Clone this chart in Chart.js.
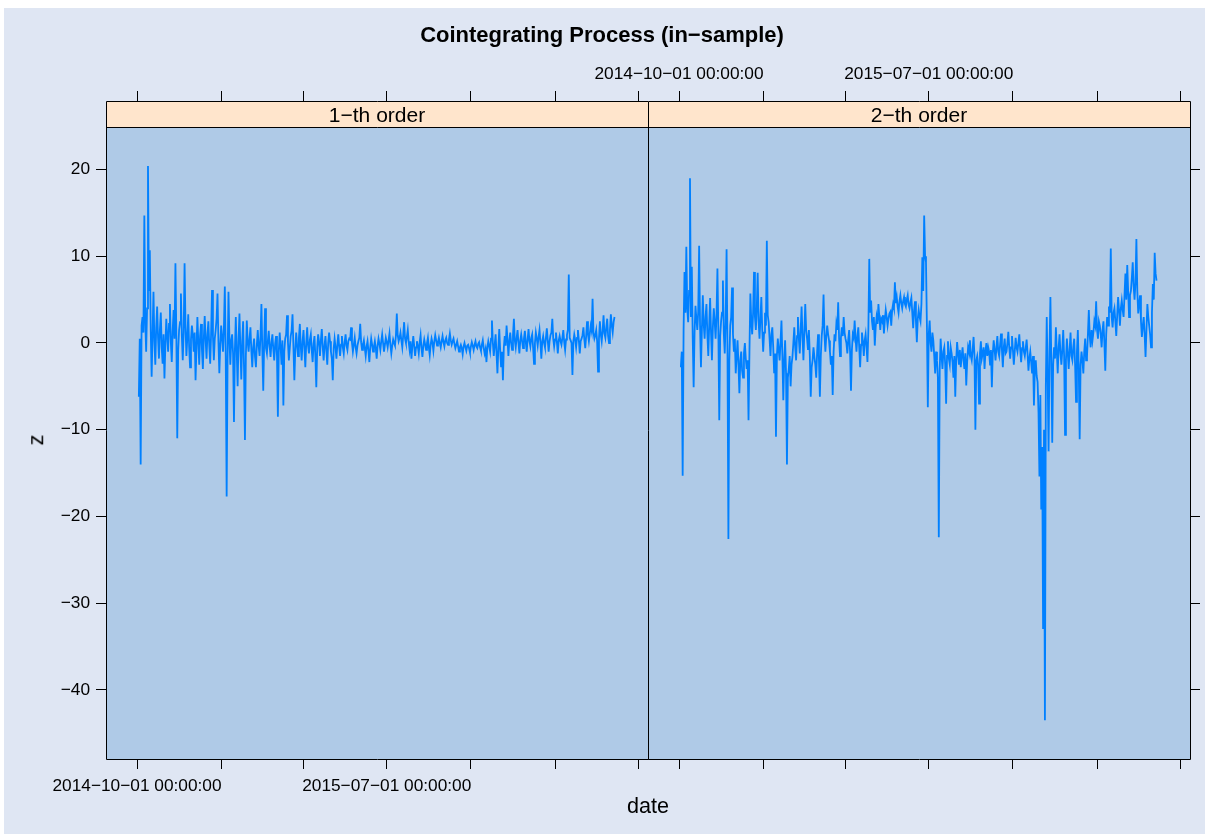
<!DOCTYPE html>
<html>
<head>
<meta charset="utf-8">
<script src="https://cdn.jsdelivr.net/npm/chart.js@4.4.1/dist/chart.umd.min.js"></script>
<style>
  body { margin: 0; background: #fff; }
  #page { position: absolute; left: 4px; top: 8px; width: 1201px; height: 826px; background: #dfe6f3; }
  canvas { position: absolute; left: 0; top: 0; }
  .txt { position: absolute; font-family: "Liberation Sans", Arial, sans-serif; color: #000;
         white-space: nowrap; line-height: 1; transform: translate(-50%, -50%); }
</style>
</head>
<body>
<div id="page"></div>
<canvas id="p1" width="1205" height="834"></canvas>
<canvas id="p2" width="1205" height="834"></canvas>
<div class="txt" style="left:602px;top:35px;font-size:22px;font-weight:bold">Cointegrating Process (in−sample)</div>
<div class="txt" id="s1" style="left:377px;top:114px;font-size:21px"></div>
<div class="txt" id="s2" style="left:919px;top:114px;font-size:21px"></div>
<div class="txt" style="left:648px;top:806px;font-size:21.6px">date</div>
<div class="txt" style="left:36px;top:440px;font-size:21.6px;transform:translate(-50%,-50%) rotate(-90deg)">z</div>
<script>
// panels
const panelNames = ['1−th order', '2−th order'];

// daily values starting at this date
const seriesStart = '2014-10-03';
const stepDays = 1;

const order1 = [
  -6.2, 0.5, -14.0, 2.0, 3.0, 1.2, 14.7, 2.5, -1.0, 4.0, 20.4, 6.0, 10.7, 1.5, -3.9, 1.0, 5.9, 0.2, -2.5, 1.8,
  4.2, 0.6, -1.8, 1.5, 3.5, -0.5, -2.4, 1.0, -4.1, -0.3, 2.8, 0.8, -1.0, 2.2, 4.5, 0.0, -2.2, 1.4, 3.8, 0.5,
  9.2, 1.0, -11.0, -0.8, 1.5, 2.4, 5.7, 0.8, -2.0, 1.2, 9.2, 2.0, -1.5, 0.6, 3.3, -0.5, -2.8, 0.4, 2.0, 0.9,
  -1.0, 1.2, -4.3, -0.6, 3.0, 0.2, -2.5, 0.9, 2.2, -0.8, -3.0, 0.5, 3.1, 0.4, -1.8, 1.0, 2.5, -0.3, -2.4, 1.1,
  6.1, 0.8, -2.0, 0.5, 1.5, 2.8, 5.7, 0.2, -3.5, -0.2, 2.0, 0.6, -1.0, 1.8, 6.5, -1.5, -17.7, -2.0, 5.9, 0.6,
  -2.5, 0.3, 1.0, -1.2, -9.1, -0.8, 3.0, -1.0, -5.0, 0.5, 3.4, -0.6, -4.2, 0.2, 2.5, -3.0, -11.2, -1.5, 2.6, 0.1,
  -1.0, 0.5, 1.8, -0.9, -2.8, -0.5, 0.5, -1.6, -2.8, -0.2, 1.5, -0.4, -1.5, 0.8, 4.5, -0.8, -5.5, 0.0, 4.0, -0.6,
  -1.2, 0.2, 1.4, -0.4, -1.6, 0.1, 1.0, -0.7, -2.0, -0.1, 0.8, -1.5, -8.5, -0.9, 1.2, -0.5, -2.5, 0.3, -7.2, -1.0,
  0.5, 1.0, 3.2, 0.1, -2.0, -0.6, 0.8, 1.4, 3.3, -0.5, -4.3, -0.9, 1.2, -0.2, -1.5, 0.6, 2.2, -0.4, -2.0, 0.2,
  1.5, -0.6, -2.8, 0.0, 1.8, -0.3, -1.2, 0.4, 1.0, -0.8, -2.2, -0.1, 0.8, -1.6, -5.1, -0.5, 1.0, 0.1, -1.5, 0.3,
  1.6, -0.4, -2.0, -0.3, 0.8, -0.9, -2.5, 0.0, 1.2, 0.2, -1.0, -1.8, -4.3, -0.6, 0.5, -0.5, -1.8, -0.2, 1.0, -0.4,
  -1.5, -0.2, 0.8, -0.5, -1.2, 0.1, 1.0, -0.3, -0.8, 0.2, 0.5, 0.4, 1.8, 0.0, -1.0, -0.2, 0.6, -0.5, -1.2, -0.3,
  0.2, 0.6, 2.2, 0.1, -0.8, -0.2, 0.3, -0.6, -1.5, -0.4, 0.2, -0.9, -2.2, -0.5, 0.5, -0.2, -1.0, -0.4, 0.2, -0.6,
  -1.8, -0.3, 0.5, -0.1, -0.8, 0.2, 1.0, 0.0, -1.0, -0.2, 0.6, 0.1, -0.5, 0.3, 1.1, -0.2, -1.2, -0.3, 0.4, 0.0,
  -0.3, 0.8, 3.4, 0.9, 0.2, 0.6, 1.2, 0.3, -0.5, 0.9, 2.4, 0.5, 0.0, 0.7, 1.5, 0.1, -0.8, 0.2, -1.8, -0.4,
  0.8, -0.3, -1.5, -0.5, 0.2, -0.4, -1.2, 0.1, 0.9, -0.6, -1.6, -0.3, 0.4, -0.2, -0.8, 0.0, 0.6, -0.5, -1.4, -0.2,
  0.5, 0.0, -0.9, 0.2, 0.9, 0.3, -0.3, 0.1, 0.6, 0.0, -0.5, 0.2, 0.8, 0.1, -0.4, 0.3, 0.6, 0.0, -0.2, 0.4,
  1.1, 0.3, -0.2, 0.2, 0.5, -0.1, -0.6, -0.2, 0.2, -0.4, -1.0, -0.5, -0.2, -0.6, -1.3, -0.4, 0.0, -0.5, -0.9, -0.3,
  -0.2, -0.6, -1.1, -0.4, 0.1, -0.3, -0.8, -0.2, 0.2, -0.4, -0.6, -0.1, 0.1, -0.5, -0.9, -0.2, 0.3, -0.6, -1.2, -0.7,
  -2.2, -0.5, 0.2, -0.4, -1.0, 0.5, 2.6, 0.0, -1.5, -0.2, 1.0, -1.2, -3.5, -0.6, 1.6, -0.8, -2.8, -1.0, -4.3, -0.5,
  0.8, -0.3, 2.0, 0.4, -1.5, 0.2, 1.2, 0.0, -0.8, 0.9, 2.8, 0.3, -0.5, 0.6, 1.5, 0.0, -1.2, 0.3, 1.0, 0.2,
  -0.6, 0.5, 1.4, 0.1, -1.0, 0.4, 1.6, 0.2, -0.4, 0.6, 1.0, -0.5, -2.4, 0.0, 1.2, 0.5, -0.3, 0.7, 1.5, 0.1,
  -1.8, 0.2, 0.8, 0.0, -0.5, 0.6, 1.7, 0.3, -1.0, 0.2, 0.9, 1.2, 2.8, 0.5, -0.4, 0.4, 1.2, 0.1, -1.2, 0.3,
  0.8, 0.2, -0.2, 0.6, 1.5, 0.1, -0.8, 0.4, 0.9, 1.5, 7.9, 0.6, 0.3, 0.0, -3.7, 0.2, 1.0, 0.4, -0.5, 0.6,
  1.5, 0.3, -1.2, 0.2, 0.5, 0.9, 1.8, 0.4, -0.6, 0.8, 2.5, 1.0, 0.2, 1.1, 2.0, 1.4, 5.1, 1.2, 0.5, 0.9,
  1.5, 0.2, -3.3, 0.5, 2.5, 1.0, 0.2, 1.4, 3.2, 1.1, 0.6, 1.8, 2.8, 0.8, 0.0, 1.5, 3.3, 2.0, 1.2, 2.4, 3.0
];

const order2 = [
  -2.8, -1.0, -15.3, 1.5, 8.2, 3.5, 11.1, 4.0, 2.4, 6.0, 19.0, 3.0, 8.8, 0.5, -5.1, 1.2, 4.3, 2.8, 1.5, 3.6,
  11.2, 2.0, -2.8, 1.5, 5.5, 2.2, 0.5, 3.0, 4.5, 1.0, -1.5, 2.0, 5.2, 1.2, -2.0, 1.8, 4.0, 2.5, 0.5, 3.2,
  8.6, 1.5, -8.9, 0.8, 2.5, 3.5, 7.2, 1.0, -1.2, 2.5, 10.8, -1.0, -22.6, -2.0, 2.0, 3.0, 6.4, 1.0, -1.0, 0.5,
  -3.5, -1.5, 0.3, -2.5, -5.8, -2.0, -1.0, -3.2, -4.0, -1.2, 0.0, -1.8, -3.0, -2.0, -8.9, -1.0, 5.7, 2.5, 1.0, 3.5,
  8.2, 3.0, 1.5, 4.0, 8.1, 2.5, 0.5, 2.8, 5.3, 1.5, -1.0, 1.2, 3.5, 2.0, 11.8, 3.2, 2.4, 0.5, -1.5, 1.0,
  1.8, -0.5, -3.5, -1.2, -10.8, -1.5, 0.5, -0.8, -2.0, 0.2, 2.6, -1.5, -6.6, -2.0, 0.3, -3.5, -14.0, -4.0, -3.0, -1.5,
  -5.0, -2.5, -1.6, 0.0, 1.8, -0.5, -2.0, 0.8, 3.0, 0.5, -1.2, 1.5, 4.2, 0.8, -2.0, 1.2, 4.5, 1.5, 0.5, -0.8,
  1.5, -1.5, -6.2, -2.8, -2.0, -0.5, -1.6, -2.5, -4.0, -1.0, 1.0, -2.0, -6.2, -1.5, 0.8, 2.0, 5.6, 1.0, -1.0, 0.8,
  2.0, 1.0, 0.3, -1.0, -2.5, -1.5, -6.0, -1.0, 1.0, 0.2, 2.2, 1.5, 4.7, 0.5, -1.5, 0.6, 1.8, 0.8, 3.0, 1.2,
  0.5, 0.0, -1.2, 0.4, 1.5, -1.0, -5.5, -0.8, 1.0, 0.6, 2.6, 0.5, -1.0, 0.8, 1.8, -0.5, -2.8, -0.2, 1.2, 0.2,
  -1.5, 0.3, 1.0, -0.5, -2.2, 1.5, 9.7, 3.5, 4.9, 2.5, 1.5, 3.0, -0.3, 1.8, 3.0, 2.2, 4.5, 3.0, 1.5, 2.8,
  2.5, 3.2, 1.1, 2.6, 3.8, 3.0, 2.0, 2.8, 3.4, 3.6, 2.0, 3.8, 4.5, 4.0, 7.0, 4.6, 5.3, 4.2, 3.5, 4.8,
  5.5, 4.6, 4.0, 4.8, 5.3, 4.5, 4.2, 5.0, 5.5, 4.4, 4.0, 4.7, 5.2, 3.5, 1.7, 3.8, 4.8, 2.5, 0.1, 2.8,
  3.8, 3.0, 2.5, 4.5, 9.9, 6.0, 14.7, 10.0, 9.3, 2.0, -7.4, 1.0, 2.6, 0.0, -1.0, 1.2, 0.3, -1.5, -3.5, -1.0,
  -2.0, -4.0, -22.4, -3.0, 0.5, -1.5, -3.0, -1.0, -0.5, -2.5, -7.0, -1.5, 0.2, -1.8, -2.5, -0.5, -1.2, -2.2, -4.0, -1.5,
  -6.2, -2.0, 0.1, -1.2, -2.5, -0.8, -2.8, -1.5, -0.5, -2.0, -3.0, -1.2, -4.9, -2.2, -0.5, -1.0, 0.3, -1.5, -2.0, -0.8,
  0.7, -1.5, -10.0, -2.0, -1.5, -2.5, -7.0, -1.2, 0.2, -1.8, -1.2, -0.5, -3.0, -1.0, 0.0, -1.5, -0.5, -1.0, -2.5, -0.8,
  -5.1, -1.2, 0.3, -0.8, -2.0, -0.5, 0.8, -1.0, -1.5, -0.2, 1.1, -0.8, -2.8, -0.5, 0.5, -1.2, -1.0, 0.0, 1.3, -0.5,
  -1.8, -0.5, 0.8, -0.8, -2.5, -1.0, 0.6, -0.5, -1.0, 0.0, 1.0, -0.8, -2.2, -0.6, 0.2, -1.0, -1.5, -0.6, 0.4, -1.2,
  -3.2, -1.8, -1.0, -2.2, -3.5, -1.5, -7.2, -3.0, -2.0, -3.8, -4.5, -8.0, -15.4, -6.0, -19.2, -12.0, -33.0, -10.0, -43.5, -5.0,
  3.0, -4.0, -12.5, -1.0, 5.3, -2.0, -11.5, -2.5, -0.5, -1.8, 1.8, -1.0, -3.5, -0.5, 1.0, -1.2, -2.5, -0.8, 1.5, -1.5,
  -10.6, -2.0, 0.5, -1.2, -3.0, -0.8, 1.2, -1.5, -2.0, -0.5, 0.5, -2.5, -6.8, -1.0, 1.5, -3.0, -11.1, -2.5, -1.0, -2.0,
  -3.5, -1.0, 0.5, -2.0, -1.6, 1.0, 3.8, 0.8, -0.5, 1.5, 0.3, 1.2, 2.5, 2.0, 4.8, 1.5, 0.5, 2.5, 2.0, 1.0,
  -0.5, 1.5, 2.5, 0.0, -3.2, 1.0, 3.0, 2.0, 4.2, 3.5, 10.9, 3.0, 1.8, 3.5, 4.0, 2.5, 0.8, 3.2, 5.3, 3.8,
  2.0, 4.0, 4.9, 3.8, 3.0, 5.5, 8.0, 5.0, 9.0, 6.0, 3.0, 5.5, 6.0, 7.5, 9.3, 6.5, 5.0, 7.0, 12.0, 6.0,
  3.4, 4.5, 5.5, 2.5, 0.7, 2.0, 3.0, 1.0, -1.6, 1.5, 4.5, 3.0, 2.0, 1.0, -0.5, 3.5, 6.8, 5.0, 10.4, 8.0, 7.2
];

// axis ticks
const quarterTicks = ['2014-10-01', '2015-01-01', '2015-04-01', '2015-07-01', '2015-10-01', '2016-01-01', '2016-04-01'];
const xTickLabels = ['2014−10−01 00:00:00', '', '', '2015−07−01 00:00:00', '', '', ''];
const yTicks = [-40, -30, -20, -10, 0, 10, 20];
const yTickLabels = ['−40', '−30', '−20', '−10', '0', '10', '20'];

const DAY = 864e5;
const xMin = Date.parse('2014-10-01') - 33.9 * DAY;
const xMax = Date.parse('2014-10-01') + 558.6 * DAY;
const yMin = -47.98, yMax = 27.91;   // top 26px of the area is the strip

const pageFont = '"Liberation Sans", Arial, sans-serif';
const stripH = 26;

document.getElementById('s1').textContent = panelNames[0];
document.getElementById('s2').textContent = panelNames[1];

function toPoints(values) {
  const t0 = Date.parse(seriesStart);
  return values.map((v, i) => ({ x: t0 + i * stepDays * DAY, y: v }));
}

const panelPlugin = {
  id: 'panel',
  beforeDraw(chart) {
    const { ctx, chartArea: a } = chart;
    ctx.save();
    ctx.fillStyle = '#afcae7';
    ctx.fillRect(a.left, a.top + stripH, a.right - a.left, a.bottom - a.top - stripH);
    ctx.fillStyle = '#ffe5cc';
    ctx.fillRect(a.left, a.top, a.right - a.left, stripH);
    ctx.restore();
  },
  afterDraw(chart) {
    const { ctx, chartArea: a } = chart;
    const l = Math.round(a.left) + 0.5, r = Math.round(a.right) + 0.5;
    const t = Math.round(a.top) + 0.5, b = Math.round(a.bottom) + 0.5;
    ctx.save();
    ctx.strokeStyle = '#000';
    ctx.lineWidth = 1;
    ctx.beginPath();
    ctx.moveTo(l, t); ctx.lineTo(r, t); ctx.lineTo(r, b); ctx.lineTo(l, b); ctx.closePath();
    ctx.moveTo(l, t + stripH); ctx.lineTo(r, t + stripH);
    ctx.stroke();
    ctx.restore();
  }
};

const tickGrid = { drawOnChartArea: false, drawTicks: true, tickLength: 10, color: '#000', lineWidth: 1 };
const tickFont = { family: pageFont, size: 17.3 };

function xAxis(pos, showLabels, h) {
  return {
    type: 'linear', position: pos, min: xMin, max: xMax, bounds: 'data',
    afterBuildTicks: s => { s.ticks = quarterTicks.map(d => ({ value: Date.parse(d) })); },
    afterFit: s => { s.height = h; },
    grid: tickGrid,
    border: { display: false },
    ticks: {
      autoSkip: false, maxRotation: 0, minRotation: 0, padding: pos === 'top' ? 6 : 7,
      font: tickFont, color: '#000',
      callback: (v, i) => showLabels ? xTickLabels[i] : ''
    }
  };
}

function yAxis(pos, showLabels, w) {
  return {
    type: 'linear', position: pos, min: yMin, max: yMax, bounds: 'data',
    afterBuildTicks: s => { s.ticks = yTicks.map(v => ({ value: v })); },
    afterFit: s => { s.width = w; },
    grid: tickGrid,
    border: { display: false },
    ticks: {
      padding: 6, font: tickFont, color: '#000',
      callback: (v, i) => showLabels ? yTickLabels[i] : ''
    }
  };
}

function makePanel(id, values, padding, scales) {
  return new Chart(document.getElementById(id), {
    type: 'line',
    data: {
      datasets: [{
        data: toPoints(values),
        borderColor: '#0080ff',
        borderWidth: 1.8,
        pointRadius: 0,
        tension: 0,
        fill: false
      }]
    },
    options: {
      responsive: false,
      animation: false,
      devicePixelRatio: 1,
      events: [],
      layout: { padding: padding },
      plugins: { legend: { display: false }, tooltip: { enabled: false }, title: { display: false } },
      scales: scales
    },
    plugins: [panelPlugin]
  });
}

makePanel('p1', order1, { left: 0, right: 557, top: 0, bottom: 0 }, {
  x: xAxis('bottom', true, 75),
  x2: xAxis('top', false, 101),
  y: yAxis('left', true, 106)
});

makePanel('p2', order2, { left: 648, right: 0, top: 0, bottom: 0 }, {
  x: xAxis('bottom', false, 75),
  x2: xAxis('top', true, 101),
  y: yAxis('right', false, 15)
});
</script>
</body>
</html>
